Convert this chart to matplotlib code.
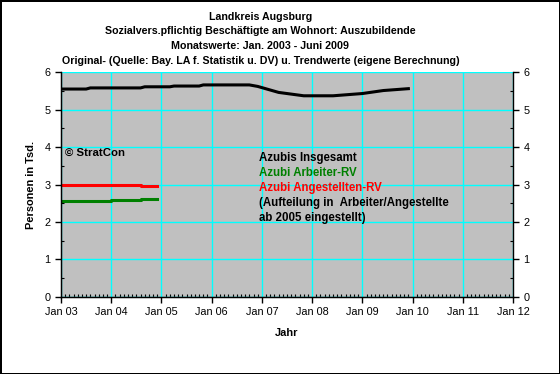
"""Landkreis Augsburg - Auszubildende, Monatswerte und Trend."""
import matplotlib
matplotlib.use('Agg')
import matplotlib.pyplot as plt
from matplotlib.ticker import MultipleLocator

plt.rcParams['font.family'] = ['Liberation Sans', 'DejaVu Sans']

years_total = [2003.0, 2003.5, 2003.583, 2004.583, 2004.667, 2005.167, 2005.25,
               2005.75, 2005.833, 2006.75, 2006.917, 2007.333, 2007.833,
               2008.417, 2009.0, 2009.417, 2009.917]
azubis_total = [5.55, 5.55, 5.58, 5.58, 5.61, 5.61, 5.63, 5.63, 5.66, 5.66,
                5.62, 5.46, 5.37, 5.37, 5.43, 5.51, 5.56]

years_ang = [2003.0, 2004.583, 2004.917]
azubis_ang = [3.0, 2.97, 2.97]

years_arb = [2003.0, 2004.0, 2004.583, 2004.917]
azubis_arb = [2.56, 2.59, 2.62, 2.62]

year_ticks = list(range(2003, 2013))
year_labels = [f'Jan {y % 100:02d}' for y in year_ticks]

title_lines = ['Landkreis Augsburg',
               'Sozialvers.pflichtig Beschäftigte am Wohnort: Auszubildende',
               'Monatswerte: Jan. 2003 - Juni 2009',
               'Original- (Quelle: Bay. LA f. Statistik u. DV) u. Trendwerte (eigene Berechnung)']

fig = plt.figure(figsize=(5.6, 3.74), dpi=100)
fig.patch.set_facecolor('white')
fig.patch.set_edgecolor('black')
fig.patch.set_linewidth(2)
ax = fig.add_axes([0.109, 0.206, 0.807, 0.601])
ax.set_facecolor('#C0C0C0')

ax.plot(years_total, azubis_total, color='black', linewidth=2.2)
ax.plot(years_arb, azubis_arb, color='#008000', linewidth=2.2, drawstyle='steps-post')
ax.plot(years_ang, azubis_ang, color='#FF0000', linewidth=2.2, drawstyle='steps-post')

ax.set_xlim(2003, 2012)
ax.set_ylim(0, 6)
ax.set_xticks(year_ticks)
ax.set_xticklabels(year_labels)
ax.xaxis.set_minor_locator(MultipleLocator(1 / 12))
ax.yaxis.set_major_locator(MultipleLocator(1))
ax.yaxis.set_minor_locator(MultipleLocator(0.5))
ax.grid(True, which='major', color='#00FFFF', linewidth=1)
ax.set_axisbelow(True)
ax.tick_params(which='major', direction='out', length=4, labelsize=7.8, width=1)
ax.tick_params(which='minor', direction='in', length=2, width=0.8)
for side in ['left', 'bottom']:
    ax.spines[side].set_linewidth(1)
ax.spines['top'].set_visible(False)
ax.spines['right'].set_visible(False)

ax2 = ax.twinx()
ax2.set_ylim(0, 6)
ax2.yaxis.set_major_locator(MultipleLocator(1))
ax2.yaxis.set_minor_locator(MultipleLocator(0.5))
ax2.tick_params(which='major', direction='out', length=4, labelsize=7.8, width=1)
ax2.tick_params(which='minor', direction='in', length=2, width=0.8)
ax2.spines['top'].set_visible(False)
ax2.spines['right'].set_linewidth(1)

ax.set_ylabel('Personen in Tsd.', fontsize=7.9, fontweight='bold', labelpad=6)
ax.set_xlabel('Jahr', fontsize=7.9, fontweight='bold', labelpad=8)

for i, line in enumerate(title_lines):
    fig.text(0.465, 0.955 - i * 0.039, line, ha='center', va='center',
             fontsize=7.7, fontweight='bold')

ax.text(2003.08, 3.85, '© StratCon', fontsize=8.2, fontweight='bold', va='center')
legend_lines = [('Azubis Insgesamt', 'black'),
                ('Azubi Arbeiter-RV', '#008000'),
                ('Azubi Angestellten-RV', '#FF0000'),
                ('(Aufteilung in  Arbeiter/Angestellte', 'black'),
                ('ab 2005 eingestellt)', 'black')]
for i, (txt, col) in enumerate(legend_lines):
    ax.text(2006.95, 3.7 - i * 0.4, txt, fontsize=8.3, fontweight='bold',
            color=col, va='center')

fig.savefig('out.png', dpi=100, facecolor=fig.get_facecolor(),
            edgecolor=fig.get_edgecolor())
